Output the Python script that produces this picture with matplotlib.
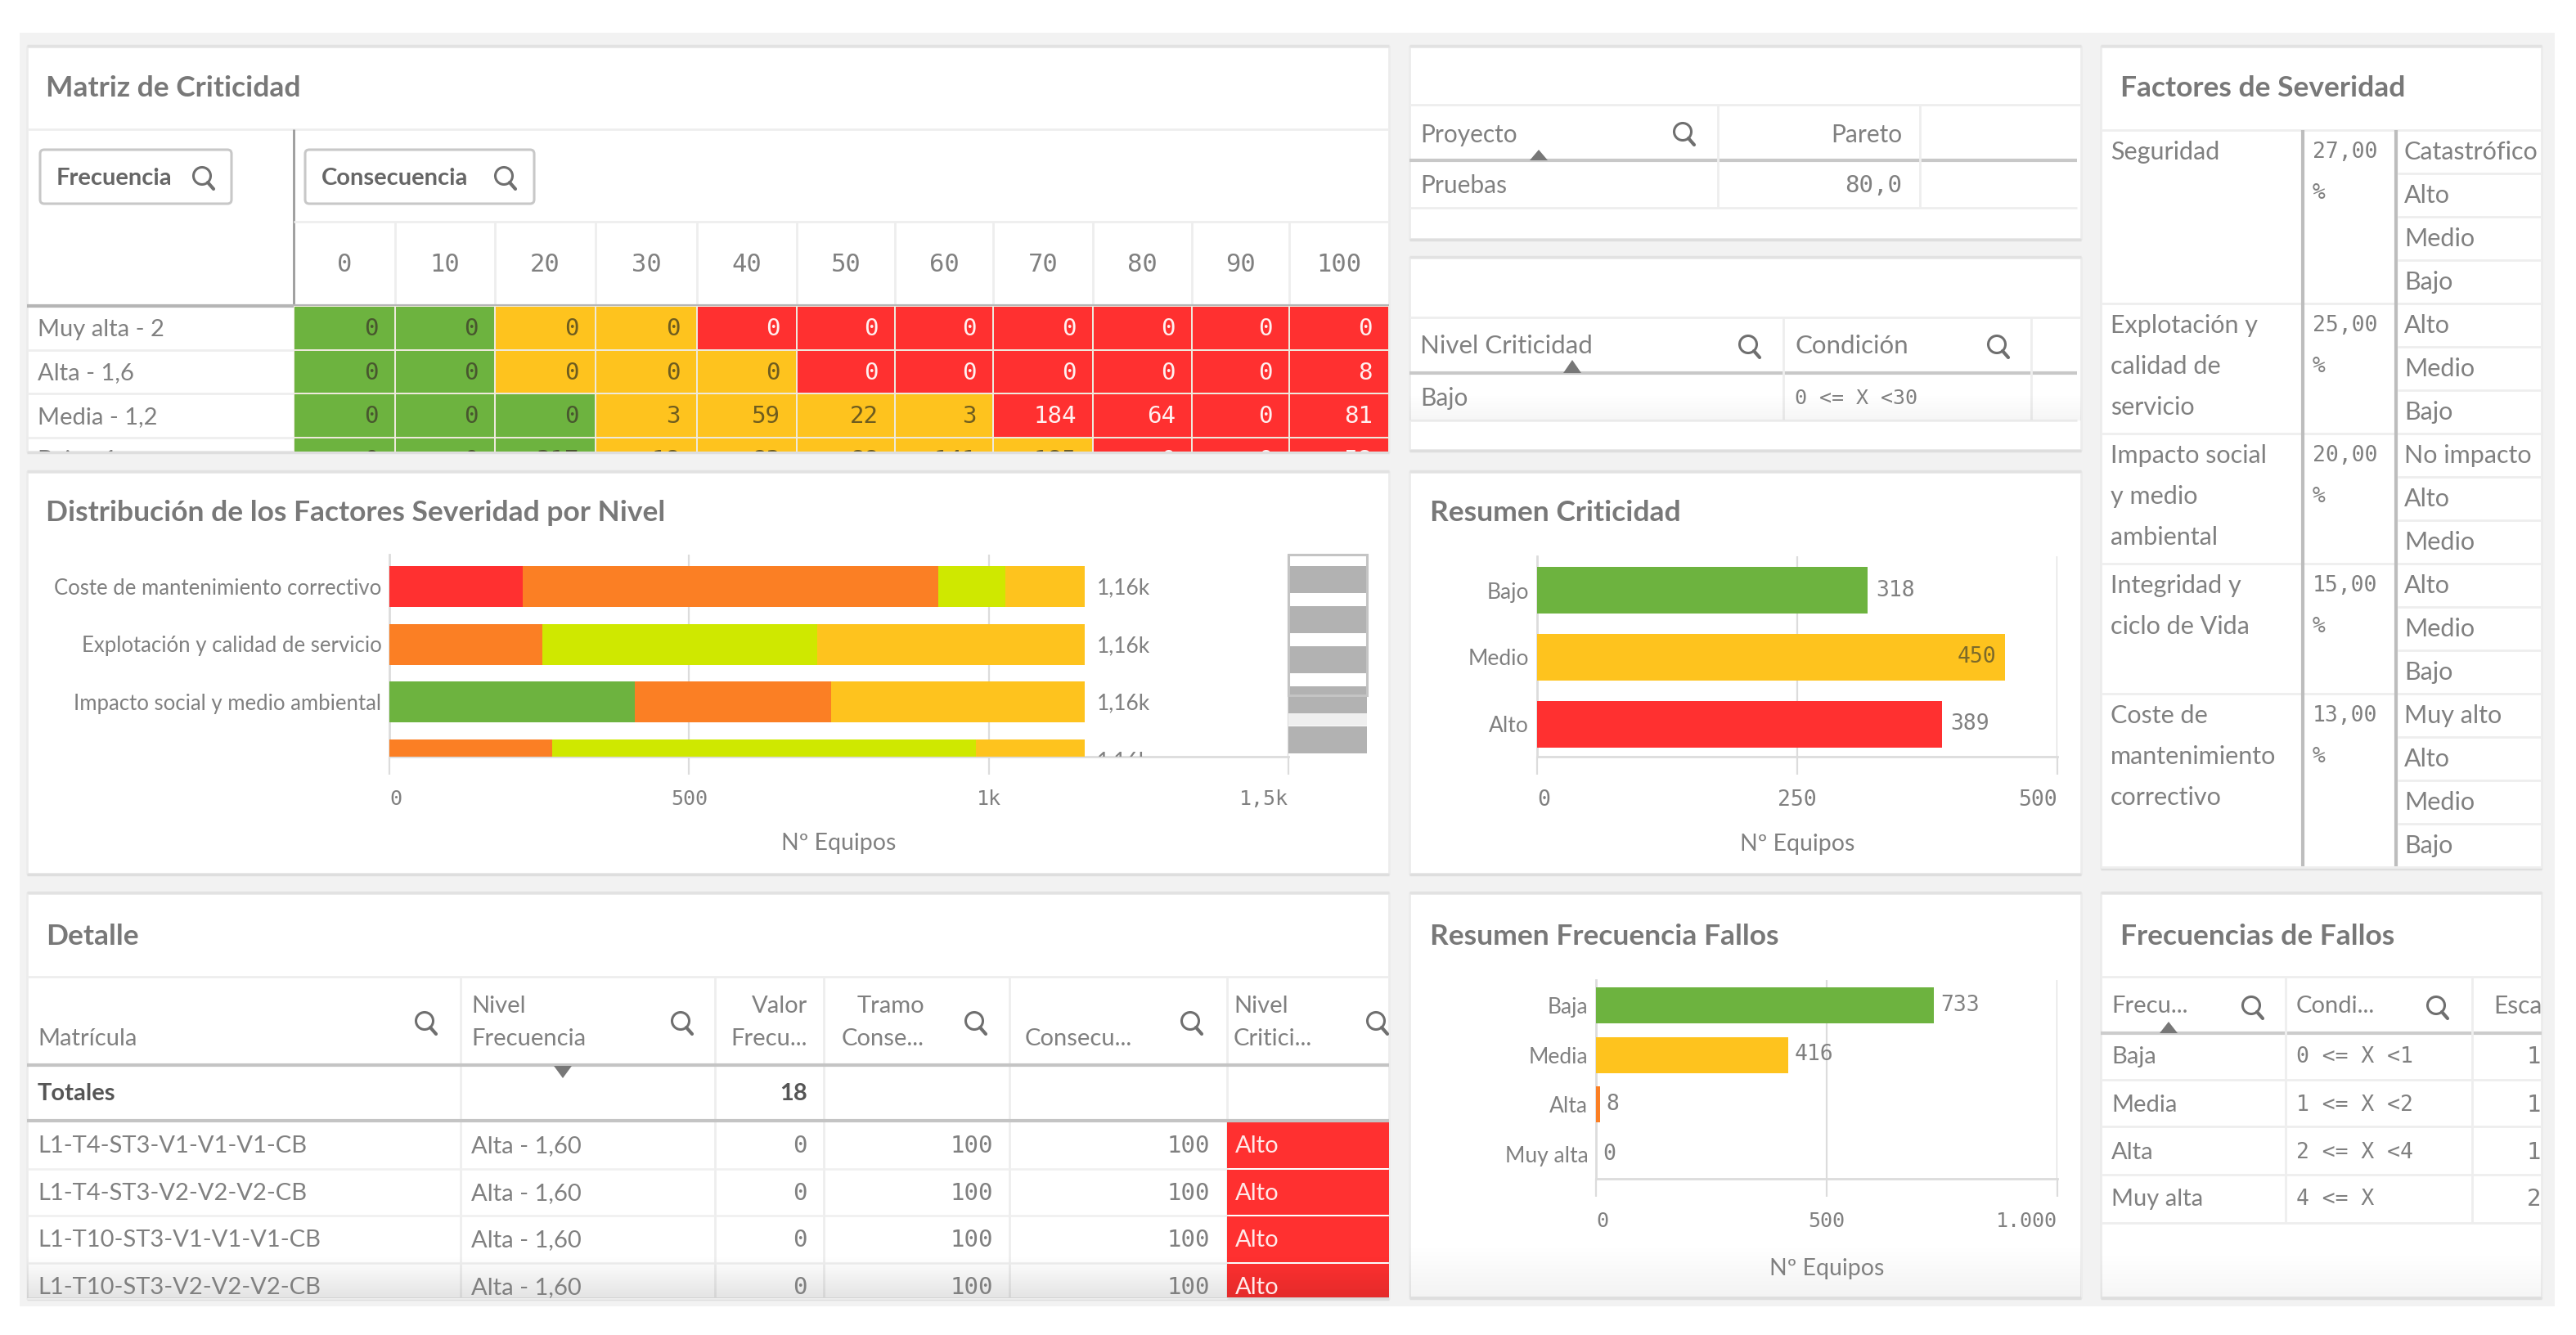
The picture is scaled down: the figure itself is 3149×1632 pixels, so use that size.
import numpy as np
import matplotlib
matplotlib.use("Agg")
import matplotlib.pyplot as plt
import matplotlib.patches as patches
from matplotlib.colors import ListedColormap

W, H = 3149, 1632
RED = "#ff3030"
ORANGE = "#fb7f24"
LIME = "#cfe800"
YELLOW = "#fec31e"
GREEN = "#6db33f"
TXT = "#808080"
GRID = "#dcdcdc"
SANS = "Lato"
MONO = "DejaVu Sans Mono"

# matrix data
freq_rows = ["Muy alta - 2", "Alta - 1,6", "Media - 1,2", "Baja - 1"]
cons_cols = [0, 10, 20, 30, 40, 50, 60, 70, 80, 90, 100]
matrix_values = [
    [0, 0, 0, 0, 0, 0, 0, 0, 0, 0, 0],
    [0, 0, 0, 0, 0, 0, 0, 0, 0, 0, 8],
    [0, 0, 0, 3, 59, 22, 3, 184, 64, 0, 81],
    [0, 0, 317, 18, 83, 88, 141, 185, 0, 0, 58],
]
# 0 bajo, 1 medio, 2 alto
matrix_levels = [
    [0, 0, 1, 1, 2, 2, 2, 2, 2, 2, 2],
    [0, 0, 1, 1, 1, 2, 2, 2, 2, 2, 2],
    [0, 0, 0, 1, 1, 1, 1, 2, 2, 2, 2],
    [0, 0, 0, 1, 1, 1, 1, 1, 2, 2, 2],
]

# stacked chart
factor_names = ["Coste de mantenimiento correctivo", "Explotación y calidad de servicio",
                "Impacto social y medio ambiental", ""]
factor_segments = [
    [(222, RED), (694, ORANGE), (112, LIME), (132, YELLOW)],
    [(255, ORANGE), (459, LIME), (446, YELLOW)],
    [(409, GREEN), (328, ORANGE), (423, YELLOW)],
    [(271, ORANGE), (708, LIME), (181, YELLOW)],
]
factor_labels = ["1,16k", "1,16k", "1,16k", "1,16k"]
scroll_totals = [1160, 1160, 1160, 1160, 1160]

crit_names = ["Bajo", "Medio", "Alto"]
crit_values = [318, 450, 389]
crit_colors = [GREEN, YELLOW, RED]

fallo_names = ["Baja", "Media", "Alta", "Muy alta"]
fallo_values = [733, 416, 8, 0]
fallo_colors = [GREEN, YELLOW, ORANGE, RED]

detalle_rows = ["L1-T4-ST3-V1-V1-V1-CB", "L1-T4-ST3-V2-V2-V2-CB",
                "L1-T10-ST3-V1-V1-V1-CB", "L1-T10-ST3-V2-V2-V2-CB"]

sev_names = [["Seguridad"], ["Explotación y", "calidad de", "servicio"],
             ["Impacto social", "y medio", "ambiental"], ["Integridad y", "ciclo de Vida"],
             ["Coste de", "mantenimiento", "correctivo"]]
sev_pct = ["27,00", "25,00", "20,00", "15,00", "13,00"]
sev_levels = [["Catastrófico", "Alto", "Medio", "Bajo"], ["Alto", "Medio", "Bajo"],
              ["No impacto", "Alto", "Medio"], ["Alto", "Medio", "Bajo"],
              ["Muy alto", "Alto", "Medio", "Bajo"]]

frec_names = ["Baja", "Media", "Alta", "Muy alta"]
frec_cond = ["0 <= X <1", "1 <= X <2", "2 <= X <4", "4 <= X"]
frec_escala = ["1", "1", "1", "2"]

fig = plt.figure(figsize=(W / 100, H / 100), dpi=100, facecolor="white")
bg = fig.add_axes([0, 0, 1, 1], zorder=0)
bg.set_xlim(0, W)
bg.set_ylim(H, 0)
bg.axis("off")


def px_axes(left, right, top, bottom, zorder=2):
    ax = fig.add_axes([left / W, 1 - bottom / H, (right - left) / W, (bottom - top) / H], zorder=zorder)
    ax.patch.set_alpha(0)
    return ax


def rect(x0, y0, x1, y1, color, z=1, **kw):
    bg.add_patch(patches.Rectangle((x0, y0), x1 - x0, y1 - y0, fc=color, ec="none", zorder=z, **kw))


def hline(x0, x1, y, color="#eeeeee", lw=2.0, z=2):
    bg.plot([x0, x1], [y, y], color=color, lw=lw, zorder=z, solid_capstyle="butt")


def vline(x, y0, y1, color="#eeeeee", lw=2.0, z=2):
    bg.plot([x, x], [y0, y1], color=color, lw=lw, zorder=z, solid_capstyle="butt")


def put(x, y, s, size=21, color=TXT, ha="left", family=SANS, weight="normal", z=5):
    return bg.text(x, y + 2, s, fontsize=size, color=color, ha=ha, va="center",
                   family=family, weight=weight, zorder=z)


def card(x0, y0, x1, y1):
    bg.add_patch(patches.Rectangle((x0, y0), x1 - x0, y1 - y0, fc="white", ec="#ececec", lw=2, zorder=1))
    hline(x0, x1, y0 - 1, color="#e2e2e2", lw=2.5, z=1)
    hline(x0, x1, y1 + 1, color="#dedede", lw=2.5, z=1)


def title(x, y, s):
    put(x, y, s, size=25.5, color="#787878", weight="bold")


def search(x, y, r=10.5, color="#6f6f6f"):
    bg.add_patch(patches.Circle((x - 2, y - 3), r, fc="none", ec=color, lw=2.2, zorder=6))
    bg.plot([x + 5, x + 12], [y + 5, y + 13], color=color, lw=3, zorder=6, solid_capstyle="round")


def triangle(x, y0, y1, half=11, color="#777777"):
    bg.add_patch(patches.Polygon([(x - half, y1), (x + half, y1), (x, y0)], fc=color, ec="none", zorder=6))


def fade(x0, x1, y0, y1, alpha=0.13):
    grad = np.zeros((64, 2, 4))
    grad[:, :, 3] = np.linspace(0, alpha, 64)[:, None]
    bg.imshow(grad, extent=(x0, x1, y1, y0), aspect="auto", zorder=4, interpolation="bilinear")
    bg.set_xlim(0, W)
    bg.set_ylim(H, 0)


def style_bar_axes(ax, xticks, xticklabels, has=None, tick_pad=13, tick_size=18):
    ax.set_xticks(xticks)
    ax.set_xticklabels(xticklabels, family=MONO, fontsize=tick_size, color=TXT)
    ax.tick_params(axis="x", length=16, width=1.6, color=GRID, pad=tick_pad)
    ax.tick_params(axis="y", length=0, pad=7, labelsize=18, labelcolor=TXT)
    for lab in ax.get_yticklabels():
        lab.set_family(SANS)
    for lab, ha in zip(ax.get_xticklabels(), has or []):
        lab.set_ha(ha)
    ax.grid(axis="x", color=GRID, lw=1.6)
    ax.set_axisbelow(True)
    for side in ["top", "right"]:
        ax.spines[side].set_visible(False)
    for side in ["left", "bottom"]:
        ax.spines[side].set_color(GRID)
        ax.spines[side].set_linewidth(2)


# page and cards
rect(24, 40, 3123, 1597, "#f2f2f2", z=0)
card(33, 57, 1698, 552)
card(1723, 57, 2544, 292)
card(1723, 315, 2544, 550)
card(2568, 57, 3107, 1061)
card(33, 577, 1698, 1068)
card(1723, 577, 2544, 1068)
card(33, 1092, 1698, 1587)
card(1723, 1092, 2544, 1586)
card(2568, 1092, 3107, 1586)

# ---- Matriz de Criticidad
title(56, 106, "Matriz de Criticidad")
hline(33, 1698, 158)
vline(359, 158, 374, color="#9a9a9a", lw=2)
for x0, x1, lab, icon in [(49, 283, "Frecuencia", 249), (373, 653, "Consecuencia", 618)]:
    bg.add_patch(patches.FancyBboxPatch((x0, 183), x1 - x0, 66, boxstyle="round,pad=0,rounding_size=5",
                                        fc="white", ec="#c8c8c8", lw=2.2, zorder=3))
    put(x0 + 20, 216, lab, size=21, color="#666666", weight="bold")
    search(icon, 218)
hline(359, 1698, 271)
hline(33, 1698, 374, color="#b5b5b5", lw=3, z=6)

col_edges = np.array([359, 483, 605, 728, 852, 974, 1094, 1214, 1336, 1457, 1576, 1698])
for i, c in enumerate(cons_cols):
    if i:
        vline(col_edges[i], 271, 374)
    put((col_edges[i] + col_edges[i + 1]) / 2, 321, str(c), size=22, ha="center", family=MONO)

heat = px_axes(col_edges[0], col_edges[-1], 374, 552)
heat.pcolormesh(col_edges, np.arange(len(freq_rows) + 1), np.array(matrix_levels),
                cmap=ListedColormap([GREEN, YELLOW, RED]), vmin=0, vmax=2,
                edgecolors="#eee9dc", linewidth=1.4)
heat.set_xlim(col_edges[0], col_edges[-1])
heat.set_ylim(178 / 53.5, 0)
heat.axis("off")
for r, row in enumerate(matrix_values):
    for c, v in enumerate(row):
        lev = matrix_levels[r][c]
        txt_col = {0: "#48572e", 1: "#6e5c1f", 2: "#fff0f0"}[lev]
        heat.text(col_edges[c + 1] - 20, r + 0.53, str(v), ha="right", va="center", family=MONO, fontsize=21,
                  color=txt_col, clip_on=True)

for i, lab in enumerate(freq_rows):
    y0 = 374 + i * 53.5
    t = put(46, y0 + 27, lab, size=21)
    t.set_clip_on(True)
    t.set_clip_path(patches.Rectangle((33, 374), 326, 178, transform=bg.transData))
    if i:
        hline(33, 359, y0)

# ---- top middle tables
hline(1723, 2544, 128)
put(1736, 163, "Proyecto", size=21.5)
search(2059, 164)
put(2325, 163, "Pareto", size=21.5, ha="right")
hline(1723, 2539, 196, color="#c8c8c8", lw=3)
triangle(1881, 183, 196)
put(1736, 225, "Pruebas", size=21.5)
put(2325, 225, "80,0", size=21, ha="right", family=MONO)
hline(1723, 2539, 254)
vline(2100, 128, 254)
vline(2347, 128, 254)

hline(1723, 2544, 388)
put(1736, 421, "Nivel Criticidad", size=22.5)
search(2139, 424)
put(2194, 421, "Condición", size=22.5)
search(2443, 424)
hline(1723, 2539, 456, color="#c8c8c8", lw=3)
triangle(1922, 440, 456)
put(1736, 485, "Bajo", size=21.5)
put(2194, 485, "0 <= X <30", size=18, family=MONO)
hline(1723, 2539, 514)
vline(2180, 388, 514)
vline(2483, 388, 514)
fade(1723, 2544, 480, 514, alpha=0.04)

# ---- Factores de Severidad
title(2592, 106, "Factores de Severidad")
hline(2568, 3107, 159)
vline(2815, 159, 1059, color="#bdbdbd", lw=3, z=3)
vline(2929, 159, 1059, color="#bdbdbd", lw=3, z=3)
y = 159
for names, pct, levels in zip(sev_names, sev_pct, sev_levels):
    for j, name in enumerate(names):
        put(2580, y + 25 + j * 50, name, size=22)
    put(2827, y + 25, pct, size=19, family=MONO)
    put(2827, y + 75, "%", size=19, family=MONO)
    for j, lev in enumerate(levels):
        put(2939, y + 25 + j * 53, lev, size=22)
        if j:
            hline(2931, 3107, y + j * 53)
    y += len(levels) * 53
    hline(2568, 3107, y)

# ---- Distribucion stacked bars
title(56, 625, "Distribución de los Factores Severidad por Nivel")
ax = px_axes(476, 1575, 678, 925)
spacing = 70.5
for i, segs in enumerate(factor_segments):
    left = 0
    for val, col in segs:
        ax.barh(i, val, left=left, height=50 / spacing, color=col, zorder=3)
        left += val
    ax.text(left + 20, i + 0.03, factor_labels[i], ha="left", va="center", family=SANS, fontsize=19,
            color=TXT, clip_on=True)
ax.set_yticks(range(len(factor_names)))
ax.set_yticklabels(factor_names)
ax.set_xlim(0, 1500)
ax.set_ylim(208 / spacing, -39 / spacing)
style_bar_axes(ax, [0, 500, 1000, 1500], ["0", "500", "1k", "1,5k"], ["left", "center", "center", "right"])
ax.tick_params(axis="y", labelsize=18.5)
ax.set_xlabel("Nº Equipos", family=SANS, fontsize=20.5, color=TXT)
ax.xaxis.set_label_coords(0.5, -0.375)

# scroll preview of the same bars
sc = px_axes(1575, 1671, 678, 922, zorder=3)
sc.barh(range(len(scroll_totals)), scroll_totals, height=33 / 49, color="#b2b2b2", zorder=2)
sc.axhspan(3.35, 3.63, color="#efefef", zorder=1)
sc.set_xlim(0, 1160)
sc.set_ylim(214 / 49, -30 / 49)
sc.axis("off")
sc.add_patch(patches.Rectangle((0, 1 - 172 / 244), 1, 172 / 244, transform=sc.transAxes, fc="none",
                               ec="#c4c4c4", lw=2.2, zorder=4, clip_on=False))

# ---- Resumen Criticidad
title(1748, 625, "Resumen Criticidad")
ax = px_axes(1879, 2515, 680, 925)
spacing = 81.5
ax.barh(range(3), crit_values, height=57 / spacing, color=crit_colors, zorder=3)
for i, v in enumerate(crit_values):
    if v > 420:
        ax.text(v - 9, i, str(v), ha="right", va="center", family=MONO, fontsize=19, color="#7c6a2a", zorder=4)
    else:
        ax.text(v + 8, i, str(v), ha="left", va="center", family=MONO, fontsize=19, color=TXT, zorder=4)
ax.set_yticks(range(3))
ax.set_yticklabels(crit_names)
ax.set_xlim(0, 500)
ax.set_ylim(203 / spacing, -42 / spacing)
style_bar_axes(ax, [0, 250, 500], ["0", "250", "500"], ["left", "center", "right"], tick_size=19)
ax.tick_params(axis="y", labelsize=19)
ax.set_xlabel("Nº Equipos", family=SANS, fontsize=20.5, color=TXT)
ax.xaxis.set_label_coords(0.5, -0.385)

# ---- Resumen Frecuencia Fallos
title(1748, 1143, "Resumen Frecuencia Fallos")
ax = px_axes(1951, 2515, 1198, 1441)
spacing = 60.5
ax.barh(range(4), fallo_values, height=44 / spacing, color=fallo_colors, zorder=3)
for i, v in enumerate(fallo_values):
    ax.text(v + 14, i, str(v), ha="left", va="center", family=MONO, fontsize=19, color=TXT, zorder=4)
ax.set_yticks(range(4))
ax.set_yticklabels(fallo_names)
ax.set_xlim(0, 1000)
ax.set_ylim(212 / spacing, -31 / spacing)
style_bar_axes(ax, [0, 500, 1000], ["0", "500", "1.000"], ["left", "center", "right"], tick_size=18)
ax.tick_params(axis="y", labelsize=19)
ax.set_xlabel("Nº Equipos", family=SANS, fontsize=20.5, color=TXT)
ax.xaxis.set_label_coords(0.5, -0.40)
fade(1723, 2544, 1520, 1586, alpha=0.05)

# ---- Detalle
title(56, 1143, "Detalle")
hline(33, 1698, 1194)
det_cols = [563, 874, 1007, 1234, 1500]
for x in det_cols:
    vline(x, 1194, 1587)
put(46, 1268, "Matrícula")
put(576, 1228, "Nivel")
put(576, 1268, "Frecuencia")
put(987, 1228, "Valor", ha="right")
put(987, 1268, "Frecu...", ha="right")
put(1130, 1228, "Tramo", ha="right")
put(1130, 1268, "Conse...", ha="right")
put(1253, 1268, "Consecu...")
put(1508, 1228, "Nivel")
put(1508, 1268, "Critici...")
for x in [521, 834, 1193, 1457, 1684]:
    search(x, 1251)
hline(33, 1698, 1302, color="#c4c4c4", lw=3, z=3)
triangle(688, 1318, 1303, color="#777777")
put(46, 1335, "Totales", size=21, color="#555555", weight="bold")
put(987, 1335, "18", size=21, color="#555555", ha="right", weight="bold")
hline(33, 1698, 1370, color="#c4c4c4", lw=3, z=3)

row_tops = [1370, 1429, 1486, 1544]
row_bottoms = [1429, 1486, 1544, 1587]
row_mids = [1399, 1457, 1514, 1572]
for mat, y0, y1, ym in zip(detalle_rows, row_tops, row_bottoms, row_mids):
    rect(1500, y0 + 1, 1698, y1 - 1, RED, z=2)
    put(46, ym, mat)
    put(576, ym, "Alta - 1,60")
    put(987, ym, "0", size=21, ha="right", family=MONO)
    put(1214, ym, "100", size=21, ha="right", family=MONO)
    put(1479, ym, "100", size=21, ha="right", family=MONO)
    put(1510, ym, "Alto", color="#ffe9e9")
    hline(33, 1500, y1, color="#efefef", lw=1.8)
fade(33, 1698, 1535, 1587, alpha=0.11)

# ---- Frecuencias de Fallos
title(2592, 1143, "Frecuencias de Fallos")
hline(2568, 3107, 1194)
put(2581, 1228, "Frecu...")
search(2754, 1232)
put(2807, 1228, "Condi...")
search(2980, 1232)
t = put(3048, 1228, "Esca", size=21.5)
t.set_clip_on(True)
t.set_clip_path(patches.Rectangle((3000, 1194), 107, 60, transform=bg.transData))
hline(2568, 3107, 1263, color="#cccccc", lw=3)
triangle(2651, 1249, 1263)
frec_lines = [1320, 1377, 1436, 1495]
frec_mids = [1290, 1349, 1407, 1464]
for name, cond, esc, ym, yl in zip(frec_names, frec_cond, frec_escala, frec_mids, frec_lines):
    put(2581, ym, name)
    put(2807, ym, cond, size=19, family=MONO)
    put(3106, ym, esc, size=21, ha="right", family=MONO)
    hline(2568, 3107, yl)
vline(2794, 1194, 1495)
vline(3022, 1194, 1495)
fade(2568, 3107, 1530, 1586, alpha=0.04)

fig.savefig("out.png", dpi=100, facecolor="white")
